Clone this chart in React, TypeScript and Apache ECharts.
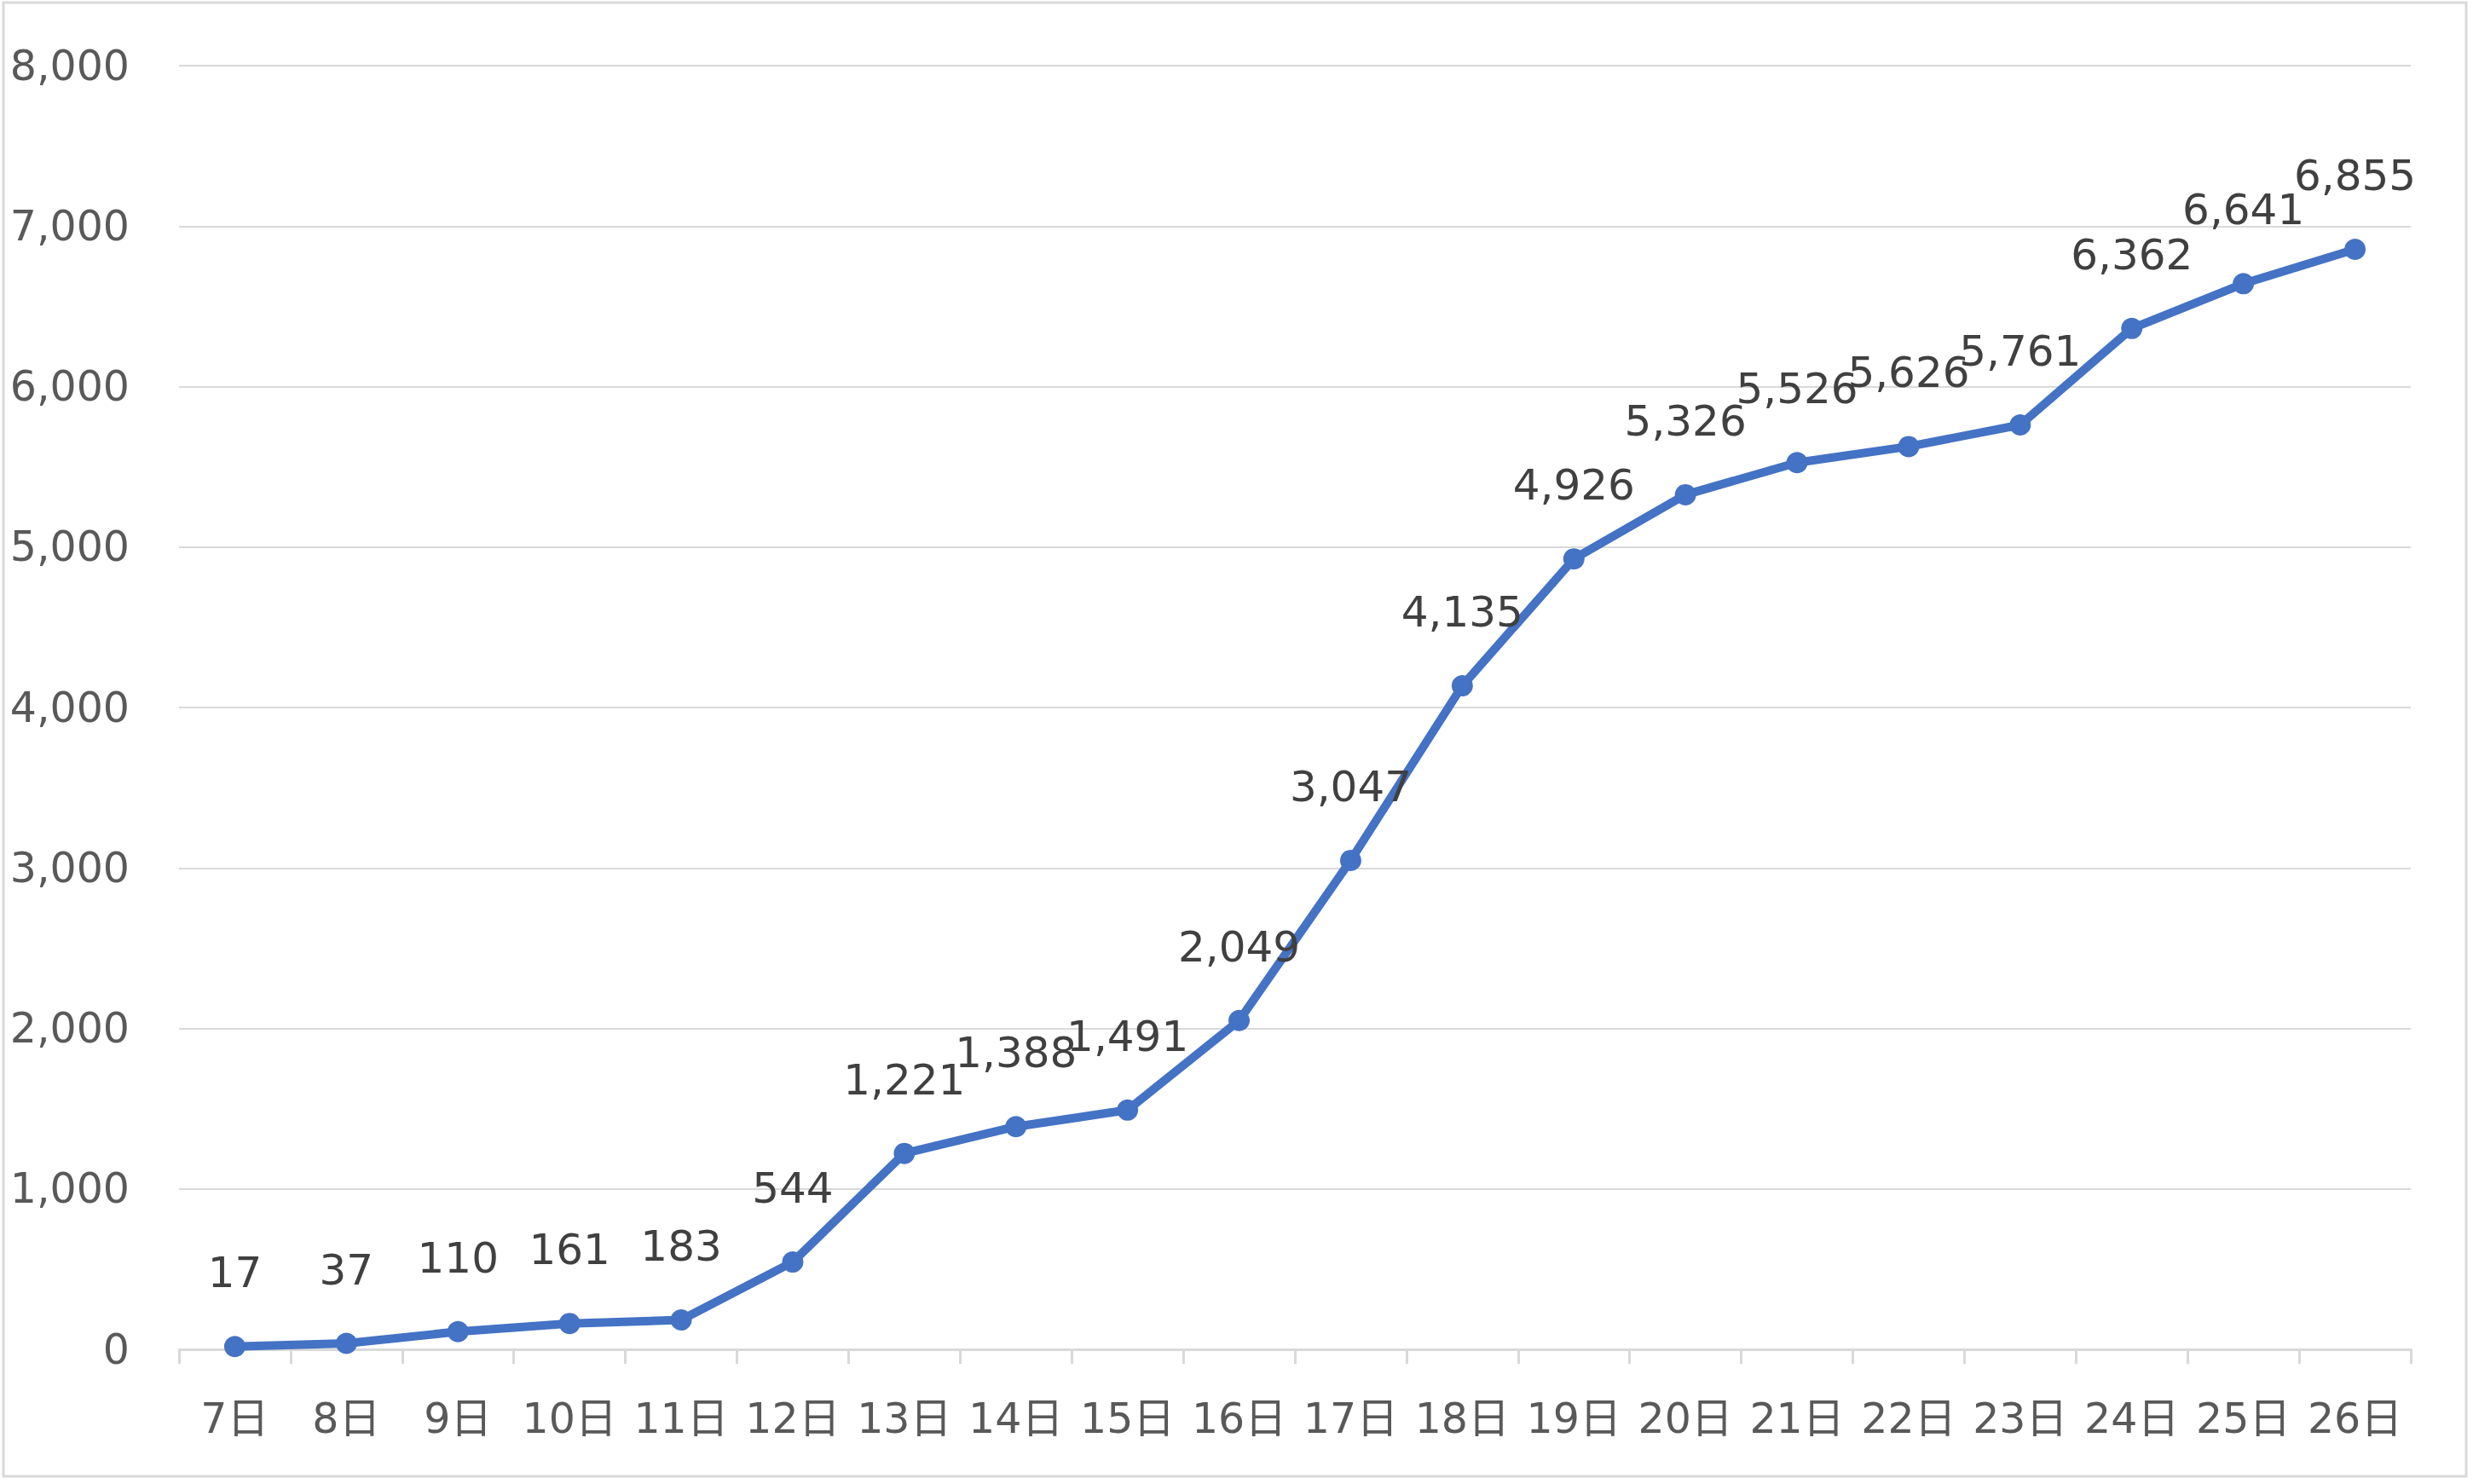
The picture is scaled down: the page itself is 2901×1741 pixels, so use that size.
import React, { useEffect, useRef } from "react";
import * as echarts from "echarts";

const categories = ["7日", "8日", "9日", "10日", "11日", "12日", "13日", "14日", "15日", "16日", "17日", "18日", "19日", "20日", "21日", "22日", "23日", "24日", "25日", "26日"];
const values = [17, 37, 110, 161, 183, 544, 1221, 1388, 1491, 2049, 3047, 4135, 4926, 5326, 5526, 5626, 5761, 6362, 6641, 6855];
const yMin = 0;
const yMax = 8000;
const yStep = 1000;

const FONT = "'DejaVu Sans', Verdana, 'Noto Sans CJK JP', sans-serif";
const fmt = (v: number) => v.toLocaleString("en-US");

export default function App() {
  const ref = useRef<HTMLDivElement>(null);
  useEffect(() => {
    document.body.style.margin = "0";
    const chart = echarts.init(ref.current!, null, { renderer: "svg" });
    chart.setOption({
      animation: false,
      backgroundColor: "#ffffff",
      graphic: [
        {
          type: "rect",
          shape: { x: 4, y: 3, width: 2889, height: 1729 },
          style: { fill: "none", stroke: "#d9d9d9", lineWidth: 3 },
          silent: true,
        },
      ],
      grid: { left: 210, right: 73, top: 77, bottom: 158, containLabel: false },
      xAxis: {
        type: "category",
        data: categories,
        boundaryGap: true,
        axisLine: { show: true, lineStyle: { color: "#d9d9d9", width: 3 } },
        axisTick: { show: true, length: 17, interval: 0, lineStyle: { color: "#d9d9d9", width: 3 } },
        axisLabel: { interval: 0, color: "#595959", fontSize: 49, fontFamily: FONT, margin: 57, lineHeight: 49 },
        splitLine: { show: false },
      },
      yAxis: {
        type: "value",
        min: yMin,
        max: yMax,
        interval: yStep,
        axisLine: { show: false },
        axisTick: { show: false },
        axisLabel: {
          color: "#595959",
          fontSize: 49,
          fontFamily: FONT,
          margin: 58,
          padding: [0, 0, 16, 0],
          formatter: (v: number) => fmt(v),
        },
        splitLine: { show: true, lineStyle: { color: "#d9d9d9", width: 2 } },
      },
      series: [
        {
          type: "line",
          data: values,
          symbol: "circle",
          symbolSize: 25,
          itemStyle: { color: "#4472C4" },
          lineStyle: { color: "#4472C4", width: 10 },
          label: {
            show: true,
            position: "top",
            distance: 49,
            color: "#404040",
            fontSize: 50,
            lineHeight: 50,
            fontFamily: FONT,
            formatter: (p: any) => fmt(p.value),
          },
        },
      ],
    });
    return () => chart.dispose();
  }, []);
  return <div ref={ref} style={{ position: "absolute", left: 0, top: 0, width: 2901, height: 1741 }} />;
}
